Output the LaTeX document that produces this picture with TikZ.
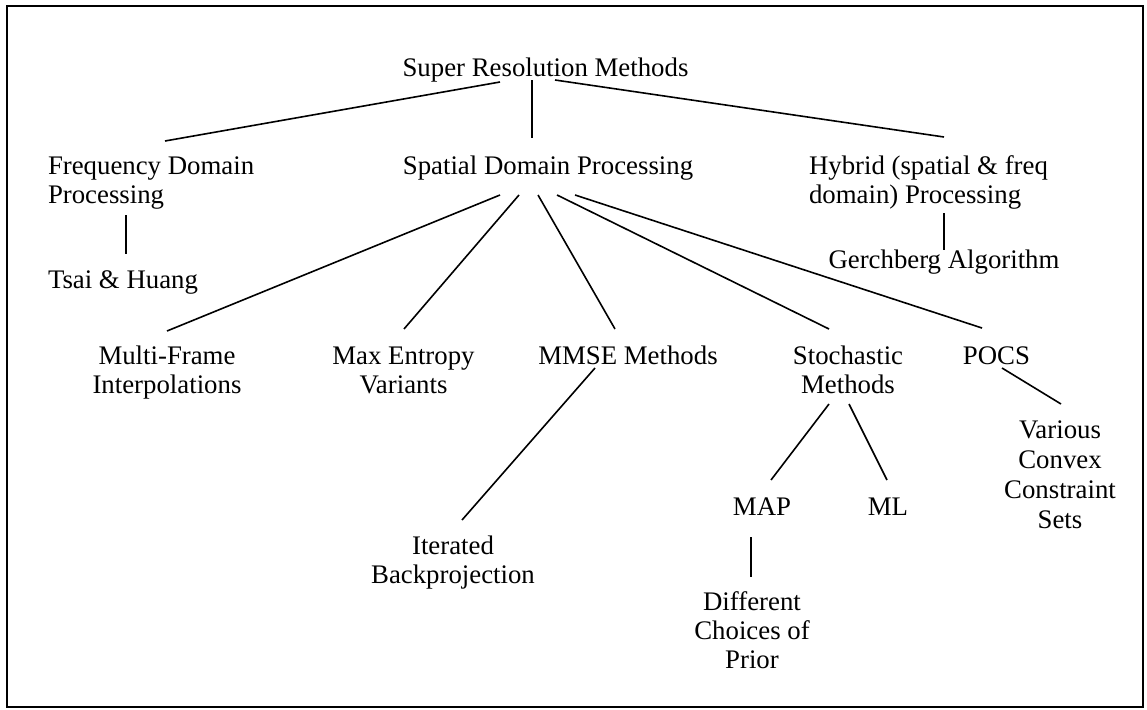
\documentclass[tikz,border=0pt]{standalone}
\usepackage{fontspec}
\setmainfont{Liberation Serif}
\usetikzlibrary{calc}
\newcommand\cstack[1]{\begin{tabular}[t]{@{}c@{}}#1\end{tabular}}
\newcommand\lstack[1]{\begin{tabular}[t]{@{}l@{}}#1\end{tabular}}
\begin{document}
\begin{tikzpicture}[x=1pt,y=-1pt,
  txt/.style={inner sep=0pt, outer sep=0pt, font=\fontsize{26.8}{29}\selectfont},
  ctr/.style={txt, anchor=base},
  lft/.style={txt, anchor=base west},
  link/.style={line width=1.6pt, black}]
\useasboundingbox (0,0) rectangle (1147,709);
\draw[line width=1.5pt] (7,6) rectangle (1143,707);

% nodes
\node[ctr] (sup) at (545.5,77) {Super Resolution Methods};
\node[lft] (freq) at (48,174) {\lstack{Frequency Domain\\Processing}};
\node[ctr] (spat) at (548,174) {Spatial Domain Processing};
\node[lft] (hyb) at (809,174) {\lstack{Hybrid (spatial \& freq\\domain) Processing}};
\node[lft] (tsai) at (48,288) {Tsai \& Huang};
\node[ctr] (gerch) at (944,268) {Gerchberg Algorithm};
\node[ctr] (multi) at (167,364) {\cstack{Multi-Frame\\Interpolations}};
\node[ctr] (maxent) at (403.5,364) {\cstack{Max Entropy\\Variants}};
\node[ctr] (mmse) at (628,364) {MMSE Methods};
\node[ctr] (stoch) at (848,364) {\cstack{Stochastic\\Methods}};
\node[ctr] (pocs) at (996.5,364) {POCS};
\node[ctr, font=\fontsize{26.8}{30.3}\selectfont] (various) at (1060,438) {\cstack{Various\\Convex\\Constraint\\Sets}};
\node[ctr] (iter) at (453,554) {\cstack{Iterated\\Backprojection}};
\node[ctr] (map) at (762,515) {MAP};
\node[ctr] (ml) at (888,515) {ML};
\node[ctr] (diff) at (752,610) {\cstack{Different\\Choices of\\Prior}};

% connectors
\draw[link] ($(sup.base)+(-45.5,5)$) -- ($(freq.base west)+(117,-33)$);
\draw[link] ($(sup.base)+(-13.5,3)$) -- ($(spat.base)+(-16,-36)$);
\draw[link] ($(sup.base)+(9.5,3)$) -- ($(hyb.base west)+(135,-37)$);
\draw[link] ($(freq.base west)+(78,41)$) -- ($(tsai.base west)+(78,-34)$);
\draw[link] ($(hyb.base west)+(135,39)$) -- ($(gerch.base)+(0,-18)$);
\draw[link] ($(spat.base)+(-48,21)$) -- ($(multi.base)+(0,-33)$);
\draw[link] ($(spat.base)+(-29,21)$) -- ($(maxent.base)+(0.5,-35)$);
\draw[link] ($(spat.base)+(-10,21)$) -- ($(mmse.base)+(-13,-35)$);
\draw[link] ($(spat.base)+(9,21)$) -- ($(stoch.base)+(-19,-35)$);
\draw[link] ($(spat.base)+(27,21)$) -- ($(pocs.base)+(-14.5,-36)$);
\draw[link] ($(mmse.base)+(-33,4)$) -- ($(iter.base)+(9,-34)$);
\draw[link] ($(stoch.base)+(-19,40)$) -- ($(map.base)+(9,-35)$);
\draw[link] ($(stoch.base)+(1,40)$) -- ($(ml.base)+(-1,-35)$);
\draw[link] ($(map.base)+(-11,22)$) -- ($(diff.base)+(-1,-33)$);
\draw[link] ($(pocs.base)+(5.5,4)$) -- ($(various.base)+(1,-34)$);
\end{tikzpicture}
\end{document}
